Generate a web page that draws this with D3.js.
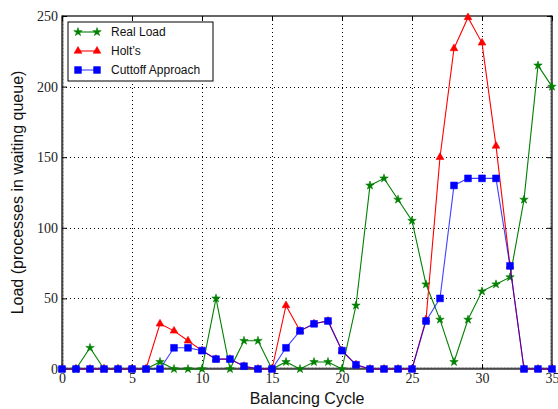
<!DOCTYPE html>
<html>
<head>
<meta charset="utf-8">
<script src="https://cdn.jsdelivr.net/npm/d3@7"></script>
<style>
  html, body { margin: 0; padding: 0; background: #fff; }
  svg { display: block; }
</style>
</head>
<body>
<svg id="chart" width="558" height="409"></svg>
<script>
// Balancing cycles 0..35
const cycles = d3.range(0, 36);

// Observed load per cycle
const realLoad = [0, 0, 15, 0, 0, 0, 0, 5, 0, 0, 0, 50, 0, 20, 20, 0, 5, 0, 5, 5,
                  0, 45, 130, 135, 120, 105, 60, 35, 5, 35, 55, 60, 65, 120, 215, 200];

// Holt's forecast
const holts = [0, 0, 0, 0, 0, 0, 0, 32, 27, 20, 13, 7, 7, 2, 0, 0, 45, 27, 32, 34,
               13, 3, 0, 0, 0, 0, 35, 150, 227, 249, 231, 158, 73, 0, 0, 0];

// Cut-off approach forecast
const cutoff = [0, 0, 0, 0, 0, 0, 0, 0, 15, 15, 13, 7, 7, 2, 0, 0, 15, 27, 32, 34,
                13, 3, 0, 0, 0, 0, 34, 50, 130, 135, 135, 135, 73, 0, 0, 0];

const xTicks = [0, 5, 10, 15, 20, 25, 30, 35];
const yTicks = [0, 50, 100, 150, 200, 250];

const legendLabels = ["Real Load", "Holt\u2019s", "Cuttoff Approach"];

const svg = d3.select("#chart");
const L = 62, R = 552, T = 16, B = 369;

const x = d3.scaleLinear().domain([0, 35]).range([L, R]);
const y = d3.scaleLinear().domain([0, 250]).range([B, T]);

// dotted grid
const grid = svg.append("g").attr("stroke", "#000").attr("stroke-width", 1)
  .attr("stroke-dasharray", "1,3");
grid.selectAll("line.gx").data(xTicks.filter(d => d > 0 && d < 35)).join("line")
  .attr("x1", d => Math.round(x(d)) + 0.5).attr("x2", d => Math.round(x(d)) + 0.5)
  .attr("y1", T).attr("y2", B);
grid.selectAll("line.gy").data(yTicks.filter(d => d > 0 && d < 250)).join("line")
  .attr("x1", L).attr("x2", R)
  .attr("y1", d => Math.round(y(d)) + 0.5).attr("y2", d => Math.round(y(d)) + 0.5);

// minor ticks along the frame
const minor = svg.append("g").attr("stroke", "#555").attr("stroke-width", 0.6);
const yMinor = d3.range(0, 251, 1);
minor.selectAll("line.ml").data(yMinor).join("line")
  .attr("x1", L).attr("x2", L + 2).attr("y1", d => y(d)).attr("y2", d => y(d));
minor.selectAll("line.mr").data(yMinor).join("line")
  .attr("x1", R - 2).attr("x2", R).attr("y1", d => y(d)).attr("y2", d => y(d));
const xMinor = d3.range(0, 35.001, 0.1);
minor.selectAll("line.mb").data(xMinor).join("line")
  .attr("x1", d => x(d)).attr("x2", d => x(d)).attr("y1", B - 2).attr("y2", B);

// axes with inward major ticks
const axB = svg.append("g").attr("transform", `translate(0,${B})`)
  .call(d3.axisBottom(x).tickValues(xTicks).tickSizeInner(-5).tickSizeOuter(0).tickPadding(4));
const axT = svg.append("g").attr("transform", `translate(0,${T})`)
  .call(d3.axisTop(x).tickValues(xTicks).tickSizeInner(-5).tickSizeOuter(0).tickFormat(""));
const axL = svg.append("g").attr("transform", `translate(${L},0)`)
  .call(d3.axisLeft(y).tickValues(yTicks).tickSizeInner(-5).tickSizeOuter(0).tickPadding(4));
const axR = svg.append("g").attr("transform", `translate(${R},0)`)
  .call(d3.axisRight(y).tickValues(yTicks).tickSizeInner(-5).tickSizeOuter(0).tickFormat(""));
[axB, axT, axL, axR].forEach(a => {
  a.select(".domain").remove();
  a.selectAll(".tick line").attr("stroke", "#000");
  a.selectAll("text").attr("font-family", "'Liberation Serif', 'DejaVu Serif', serif")
    .attr("font-size", 14).attr("fill", "#222");
});

// frame
svg.append("rect").attr("x", L).attr("y", T).attr("width", R - L).attr("height", B - T)
  .attr("fill", "none").attr("stroke", "#000").attr("stroke-width", 1.2);

// series, drawn bottom to top
const series = [
  { name: legendLabels[0], values: realLoad, color: "#008000", sym: d3.symbolStar, size: 22, op: 1 },
  { name: legendLabels[1], values: holts, color: "#ff0000", sym: d3.symbolTriangle, size: 26, op: 1 },
  { name: legendLabels[2], values: cutoff, color: "#0000ff", sym: d3.symbolSquare, size: 46, op: 0.75 }
];

const line = d3.line().x((d, i) => x(cycles[i])).y(d => y(d));
const plot = svg.append("g");
series.forEach(s => {
  plot.append("path").datum(s.values).attr("d", line)
    .attr("fill", "none").attr("stroke", s.color).attr("stroke-width", 1.1)
    .attr("stroke-opacity", s.op);
  plot.append("g").selectAll("path").data(s.values).join("path")
    .attr("transform", (d, i) => `translate(${x(cycles[i])},${y(d)})`)
    .attr("d", d3.symbol().type(s.sym).size(s.size))
    .attr("fill", s.color).attr("stroke", s.color).attr("stroke-width", 0.6);
});

// legend
const lg = svg.append("g");
lg.append("rect").attr("x", 68).attr("y", 22).attr("width", 145).attr("height", 59)
  .attr("fill", "#fff").attr("stroke", "#000").attr("stroke-width", 1);
series.forEach((s, i) => {
  const yy = 32 + i * 19;
  lg.append("line").attr("x1", 78).attr("x2", 97).attr("y1", yy).attr("y2", yy)
    .attr("stroke", s.color).attr("stroke-width", 1.1).attr("stroke-opacity", s.op);
  [78, 97].forEach(xx => {
    lg.append("path").attr("transform", `translate(${xx},${yy})`)
      .attr("d", d3.symbol().type(s.sym).size(s.size))
      .attr("fill", s.color).attr("stroke", s.color).attr("stroke-width", 0.6);
  });
  lg.append("text").attr("x", 111).attr("y", yy).attr("dy", "0.35em")
    .attr("font-family", "'Liberation Sans', Arial, sans-serif").attr("font-size", 12)
    .attr("fill", "#111").text(s.name);
});

// axis titles
svg.append("text").attr("x", (L + R) / 2).attr("y", 404).attr("text-anchor", "middle")
  .attr("font-family", "'Liberation Sans', Arial, sans-serif").attr("font-size", 16)
  .attr("fill", "#111").text("Balancing Cycle");
svg.append("text").attr("transform", `translate(23,${(T + B) / 2}) rotate(-90)`)
  .attr("text-anchor", "middle")
  .attr("font-family", "'Liberation Sans', Arial, sans-serif").attr("font-size", 16)
  .attr("fill", "#111").text("Load (processes in waiting queue)");
</script>
</body>
</html>
